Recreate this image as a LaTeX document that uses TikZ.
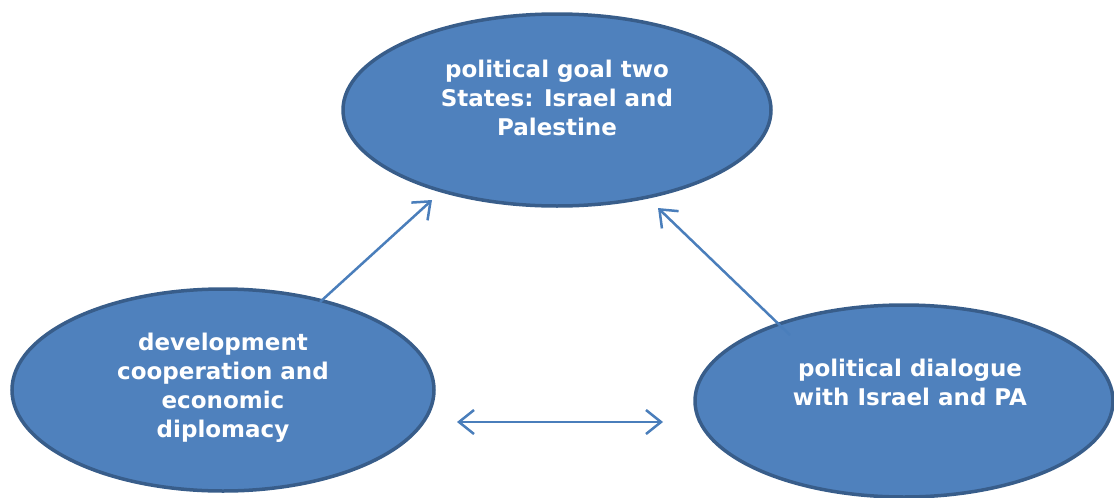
\documentclass[tikz,border=0pt]{standalone}
\usepackage{fontspec}
\setmainfont{DejaVu Sans}
\usetikzlibrary{arrows.meta}
\definecolor{fillblue}{HTML}{4F81BD}
\definecolor{edgeblue}{HTML}{385D8A}
\definecolor{arrowblue}{HTML}{4A7EBB}
\begin{document}
\begin{tikzpicture}[x=1pt,y=-1pt,
  bubble/.style={draw=edgeblue, line width=3.5pt, fill=fillblue},
  btext/.style={text=white, font=\bfseries\fontsize{23}{29}\selectfont, align=center},
  tip/.style={},
  link/.style={draw=arrowblue, line width=2.5pt, -{Straight Barb[length=15pt,width=24pt,line width=2.5pt]}},
  dlink/.style={draw=arrowblue, line width=2.5pt, {Straight Barb[length=15pt,width=24pt,line width=2.5pt]}-{Straight Barb[length=15pt,width=24pt,line width=2.5pt]}}]
\useasboundingbox (0,0) rectangle (1114,498);
\begin{scope}
\clip (0,0) rectangle (1114,498);
\draw[bubble] (557,110) ellipse [x radius=214, y radius=96];
\draw[bubble] (223,390) ellipse [x radius=211, y radius=101];
\draw[bubble] (904,401) ellipse [x radius=209, y radius=96];
\end{scope}
\node[btext] (top) at (557,98) {political goal two\\States: Israel and\\Palestine};
\node[btext] (left) at (223,388) {development\\cooperation and\\economic\\diplomacy};
\node[btext] (right) at (910,382) {political dialogue\\with Israel and PA};
\coordinate (l1) at (320,302);
\coordinate (l2) at (432,200);
\coordinate (r1) at (790,335);
\coordinate (r2) at (658,208);
\coordinate (h1) at (457,422);
\coordinate (h2) at (663,422);
\draw[link] (l1) -- (l2);
\draw[link] (r1) -- (r2);
\draw[dlink] (h1) -- (h2);
\end{tikzpicture}
\end{document}
